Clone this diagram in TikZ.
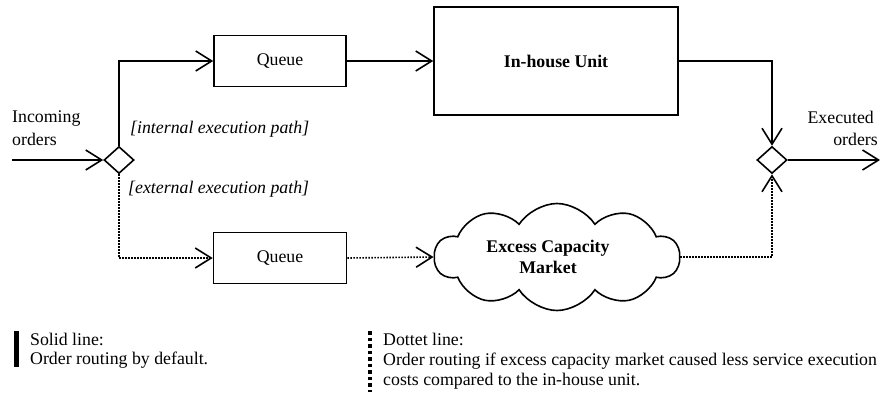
\documentclass[tikz,border=0pt]{standalone}
\usepackage{fontspec}
\setmainfont{Liberation Serif}
\usetikzlibrary{arrows.meta,shapes.geometric,shapes.symbols}
\begin{document}
\begin{tikzpicture}[x=1pt,y=-1pt,
  font=\fontsize{17.8}{21}\selectfont,
  ln/.style={line width=1.6pt},
  dt/.style={line width=1.6pt, dash pattern=on 1.5pt off 1.5pt},
  barb/.style={-{Straight Barb[length=16pt,width=20pt,line width=1.6pt]}},
  box/.style={draw, line width=1.6pt, inner sep=0pt},
  gate/.style={diamond, draw, line width=1.6pt, inner sep=0pt, minimum width=30pt, minimum height=27pt},
  lbl/.style={inner sep=0pt}]
\useasboundingbox (0,0) rectangle (885,394);
% nodes
\node[gate] (d1) at (119,160) {};
\node[gate] (d2) at (772,160) {};
\node[box, minimum width=132pt, minimum height=51pt] (q1) at (280,61) {Queue};
\node[box, minimum width=244pt, minimum height=108pt] (ih) at (556,61) {\bfseries In-house Unit};
\node[box, minimum width=133pt, minimum height=51pt] (q2) at (280,258) {Queue};
\node[cloud, draw, line width=1.6pt, cloud puffs=10, cloud puff arc=115, aspect=2.3,
      minimum width=245pt, minimum height=107pt, inner sep=0pt] (cl) at (557,257) {};
\node[lbl, anchor=base, font=\fontsize{17.8}{21}\selectfont\bfseries] (cl1) at (548,252) {Excess Capacity};
\node[lbl, anchor=base, font=\fontsize{17.8}{21}\selectfont\bfseries] (cl2) at (548,273) {Market};
\coordinate (inc) at (12,160);
\coordinate (out) at (880,160);
% texts
\node[lbl, anchor=base west] (t1) at (12,122) {Incoming};
\node[lbl, anchor=base west] (t2) at (12,145) {orders};
\node[lbl, anchor=base east] (t3) at (874,123) {Executed};
\node[lbl, anchor=base east] (t4) at (878,145) {orders};
\node[lbl, anchor=base west] (g1) at (130,133) {\itshape [internal execution path]};
\node[lbl, anchor=base west] (g2) at (128,193) {\itshape [external execution path]};
% connectors
\draw[ln,barb] (inc) -- (d1.west);
\draw[ln,barb] (d1.north) |- (q1.west);
\draw[ln,barb] (q1.east) -- (ih.west);
\draw[ln,barb] (ih.east) -| (d2.north);
\draw[ln,barb] (d2.east) -- (out);
\draw[dt,barb] (d1.south) |- (q2.west);
\draw[dt,barb] (q2.east) -- (cl.west);
\draw[dt,barb] (cl.east) -| (d2.south);
% legend
\draw[line width=5pt] (16.5,331) -- (16.5,367);
\node[lbl, anchor=base west] (l1) at (30,345) {Solid line:};
\node[lbl, anchor=base west] (l2) at (30,364) {Order routing by default.};
\draw[line width=4pt, dash pattern=on 3.5pt off 3pt] (370,331) -- (370,392);
\node[lbl, anchor=base west] (l3) at (383,345) {Dottet line:};
\node[lbl, anchor=base west] (l4) at (383,365) {Order routing if excess capacity market caused less service execution};
\node[lbl, anchor=base west] (l5) at (383,385) {costs compared to the in-house unit.};
\end{tikzpicture}
\end{document}
